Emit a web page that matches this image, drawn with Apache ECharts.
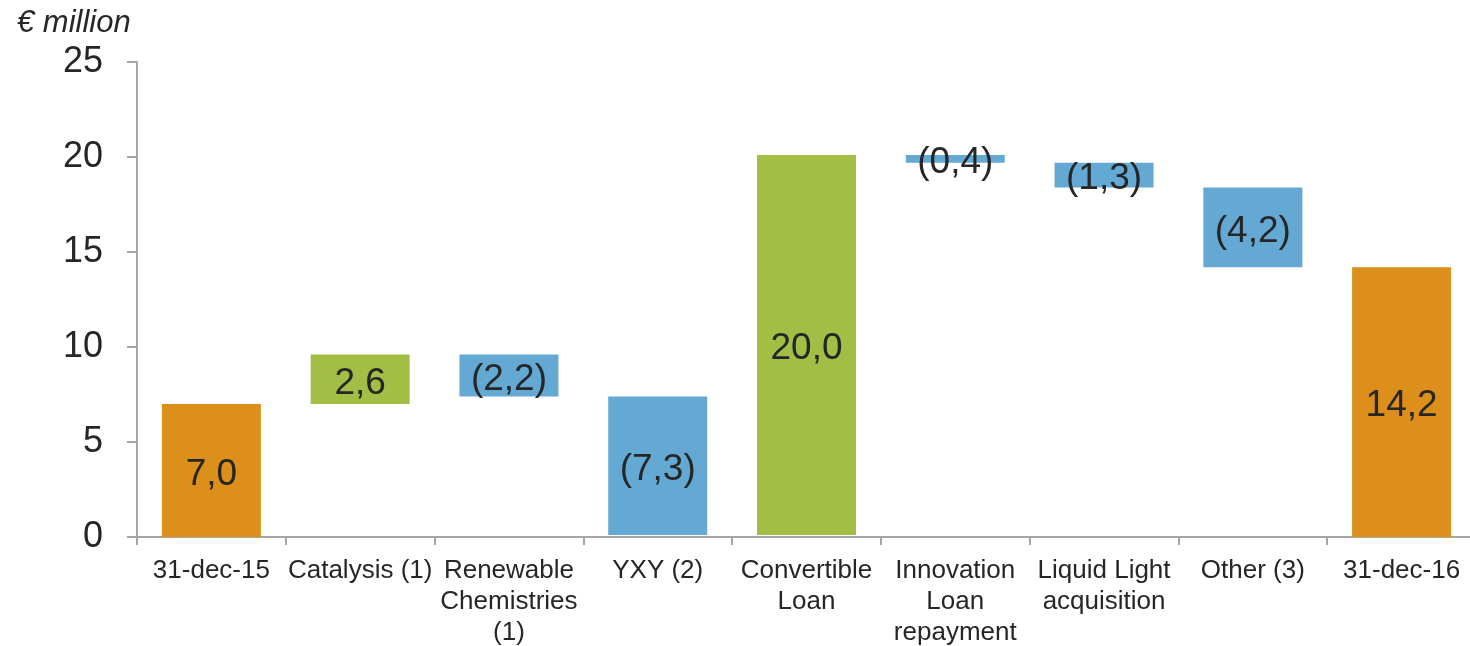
<!DOCTYPE html>
<html>
<head>
<meta charset="utf-8">
<script src="https://cdn.jsdelivr.net/npm/echarts@6/dist/echarts.min.js"></script>
<style>html,body{margin:0;padding:0;background:#fff}#c{width:1470px;height:646px}</style>
</head>
<body>
<div id="c"></div>
<script>
const categories = ['31-dec-15', 'Catalysis (1)', 'Renewable\nChemistries\n(1)', 'YXY (2)', 'Convertible\nLoan', 'Innovation\nLoan\nrepayment', 'Liquid Light\nacquisition', 'Other (3)', '31-dec-16'];
const changes = [7.0, 2.6, -2.2, -7.3, 20.0, -0.4, -1.3, -4.2, 14.2];
const kinds = ['total', 'inc', 'dec', 'dec', 'inc', 'dec', 'dec', 'dec', 'total'];
const yTicks = [0, 5, 10, 15, 20, 25];
const colors = { total: '#DC8F1A', inc: '#A3BE45', dec: '#63A9D3' };

const bases = [], heights = [];
let running = 0;
changes.forEach((v, i) => {
  if (kinds[i] === 'total') { bases.push(0); heights.push(v); running = v; }
  else if (v >= 0) { bases.push(+running.toFixed(2)); heights.push(v); running += v; }
  else { running += v; bases.push(+running.toFixed(2)); heights.push(-v); }
});
const fmt = v => { const s = Math.abs(v).toFixed(1).replace('.', ','); return v < 0 ? '(' + s + ')' : s; };

const chart = echarts.init(document.getElementById('c'));
chart.setOption({
  animation: false,
  title: { text: '€ million', left: 12, top: 3, textStyle: { fontFamily: 'Liberation Sans', fontStyle: 'italic', fontWeight: 'normal', fontSize: 31, color: '#262626' } },
  grid: { left: 137, top: 62, width: 1339, height: 475, outerBoundsMode: 'none', containLabel: false },
  xAxis: {
    type: 'category', data: categories,
    axisLine: { lineStyle: { color: '#A6A6A6', width: 2 } },
    axisTick: { show: true, alignWithLabel: false, length: 8, lineStyle: { color: '#A6A6A6', width: 2 } },
    axisLabel: { interval: 0, margin: 18, fontFamily: 'Liberation Sans', fontSize: 26, lineHeight: 31, color: '#262626' }
  },
  yAxis: {
    type: 'value', min: 0, max: 25, interval: 5,
    axisLine: { show: true, lineStyle: { color: '#A6A6A6', width: 2 } },
    axisTick: { show: true, length: 10, lineStyle: { color: '#A6A6A6', width: 2 } },
    splitLine: { show: false },
    axisLabel: { margin: 34, fontFamily: 'Liberation Sans', fontSize: 36, color: '#262626', formatter: v => yTicks.includes(v) ? String(v) : '' }
  },
  series: [
    { type: 'bar', stack: 'w', barWidth: 99, silent: true, itemStyle: { color: 'transparent' }, data: bases },
    {
      type: 'bar', stack: 'w', barWidth: 99,
      data: heights.map((h, i) => ({ value: h, itemStyle: { color: colors[kinds[i]] } })),
      label: { show: true, position: 'inside', offset: [0, 4], fontFamily: 'Liberation Sans', fontSize: 37, color: '#262626', formatter: p => fmt(changes[p.dataIndex]) }
    }
  ]
});
</script>
</body>
</html>
